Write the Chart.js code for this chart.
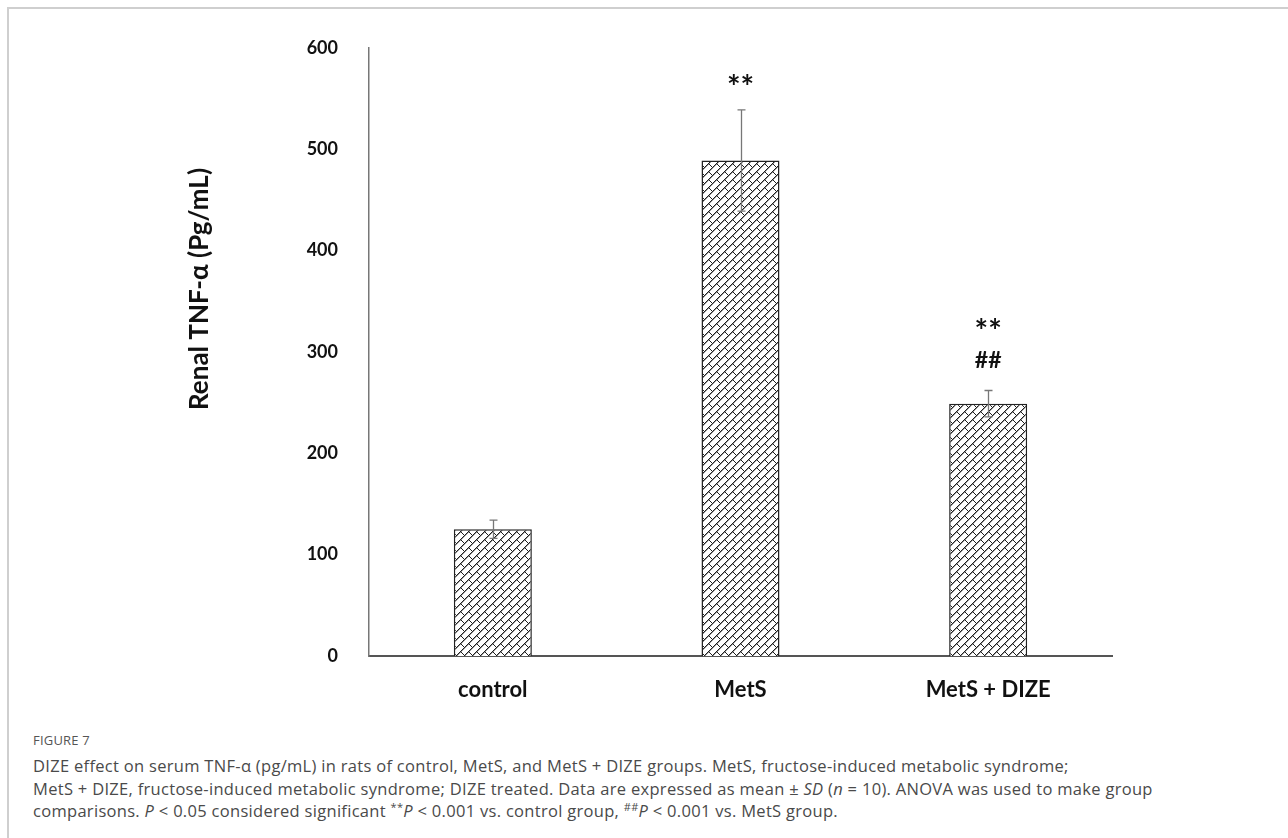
<!DOCTYPE html>
<html>
<head>
<meta charset="utf-8">
<script src="https://cdn.jsdelivr.net/npm/chart.js@4.4.1/dist/chart.umd.min.js"></script>
<style>
  body { margin: 0; background: #fff; width: 1288px; height: 838px; overflow: hidden; position: relative; }
  .frame { position: absolute; left: 7px; top: 7px; right: -10px; bottom: -10px; border-left: 2px solid #cfcfcf; border-top: 2px solid #cfcfcf; }
  .plot { position: absolute; left: 0; top: 0; width: 1288px; height: 720px; }
  .fig { position: absolute; left: 33px; top: 731px; font: 13px "Open Sans", sans-serif; color: #555; letter-spacing: 0.2px; }
  .cap { position: absolute; left: 33px; top: 755px; margin: 0; font: 16.5px/22.5px "Open Sans", sans-serif; color: #4a4a4a; white-space: nowrap; letter-spacing: 0.3px; }
  .cap sup { font-size: 11px; line-height: 0; }
</style>
</head>
<body>
<div class="frame"></div>
<div class="plot"><canvas id="chart" width="1288" height="720"></canvas></div>
<div class="fig">FIGURE 7</div>
<p class="cap">DIZE effect on serum TNF-α (pg/mL) in rats of control, MetS, and MetS + DIZE groups. MetS, fructose-induced metabolic syndrome;<br>MetS + DIZE, fructose-induced metabolic syndrome; DIZE treated. Data are expressed as mean ± <i>SD</i> (<i>n</i> = 10). ANOVA was used to make group<br>comparisons. <i>P</i> &lt; 0.05 considered significant <sup>**</sup><i>P</i> &lt; 0.001 vs. control group, <sup>##</sup><i>P</i> &lt; 0.001 vs. MetS group.</p>

<script>
const groups = ['control', 'MetS', 'MetS + DIZE'];
const means = [125, 489, 249];
const sds = [9, 50, 13];
const starMarks = ['', '**', '**'];
const hashMarks = ['', '', '##'];
const yTicks = [0, 100, 200, 300, 400, 500, 600];
const yTitle = 'Renal TNF-α (Pg/mL)';

// diagonal brick fill, drawn pixel by pixel on an 8x8 tile
function brickPattern() {
  const c = document.createElement('canvas');
  c.width = 8; c.height = 8;
  const g = c.getContext('2d');
  g.fillStyle = '#fff';
  g.fillRect(0, 0, 8, 8);
  g.fillStyle = '#9a9a9a';
  for (let i = 0; i < 8; i++) g.fillRect((i + 1) % 8, 7 - i, 1, 1);
  g.fillStyle = '#1e1e1e';
  for (let i = 0; i < 8; i++) g.fillRect(i, 7 - i, 1, 1);
  g.fillRect(5, 4, 1, 1);
  g.fillRect(6, 5, 1, 1);
  g.fillRect(7, 6, 1, 1);
  return g.createPattern(c, 'repeat');
}

const errorBars = {
  id: 'errorBars',
  afterDatasetsDraw(chart) {
    const { ctx, scales } = chart;
    const meta = chart.getDatasetMeta(0);
    ctx.save();
    ctx.strokeStyle = '#777';
    ctx.lineWidth = 1.3;
    meta.data.forEach((bar, i) => {
      const x = Math.round(bar.x) + 0.5;
      const hi = scales.y.getPixelForValue(means[i] + sds[i]);
      const lo = scales.y.getPixelForValue(means[i] - sds[i]);
      ctx.beginPath();
      ctx.moveTo(x, hi); ctx.lineTo(x, lo);
      ctx.moveTo(x - 4, hi); ctx.lineTo(x + 4, hi);
      ctx.moveTo(x - 4, lo); ctx.lineTo(x + 4, lo);
      ctx.stroke();

      // significance marks stacked above the error bar
      ctx.fillStyle = '#111';
      ctx.textAlign = 'center';
      ctx.textBaseline = 'middle';
      let y = hi - 30;
      if (hashMarks[i]) {
        ctx.font = 'bold 23px Lato';
        ctx.fillText(hashMarks[i], bar.x, y);
        y -= 37;
      }
      if (starMarks[i]) {
        ctx.font = 'bold 32px Lato';
        ctx.fillText(starMarks[i], bar.x, y + 9);
      }
    });

    // y title, drawn by hand so it can sit where the original has it
    ctx.save();
    ctx.translate(200, 289);
    ctx.rotate(-Math.PI / 2);
    ctx.font = 'bold 26px Lato';
    ctx.fillStyle = '#111';
    ctx.fillText(yTitle, 0, 0);
    ctx.restore();
    ctx.restore();
  }
};

new Chart(document.getElementById('chart'), {
  type: 'bar',
  data: {
    labels: groups,
    datasets: [{
      data: means,
      backgroundColor: brickPattern(),
      borderColor: '#222',
      borderWidth: 1.5,
      categoryPercentage: 1,
      barPercentage: 0.315
    }]
  },
  options: {
    responsive: false,
    animation: false,
    layout: { padding: { left: 0, right: 176, top: 48, bottom: 0 } },
    plugins: { legend: { display: false }, tooltip: { enabled: false } },
    scales: {
      x: {
        grid: { display: false, drawTicks: false },
        border: { display: true, color: '#555', width: 2 },
        ticks: { color: '#111', font: { family: 'Lato', size: 22, weight: 'bold' }, padding: 21 },
        afterFit: s => { s.height = 64; }
      },
      y: {
        min: 0,
        max: 600,
        afterBuildTicks: s => { s.ticks = yTicks.map(v => ({ value: v })); },
        grid: { display: false, drawTicks: false },
        border: { display: true, color: '#777', width: 1.5 },
        ticks: { color: '#111', font: { family: 'Lato', size: 18, weight: 'bold' }, padding: 31 },
        afterFit: s => { s.width = 369; }
      }
    }
  },
  plugins: [errorBars]
});
</script>
</body>
</html>
